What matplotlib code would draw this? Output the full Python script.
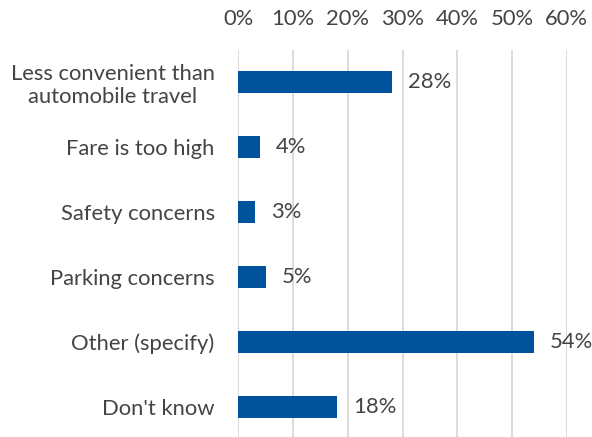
import matplotlib
matplotlib.use("Agg")
import matplotlib.pyplot as plt
from matplotlib.ticker import FuncFormatter

categories = ["Less convenient than\nautomobile travel", "Fare is too high", "Safety concerns",
              "Parking concerns", "Other (specify)", "Don't know"]
values = [28, 4, 3, 5, 54, 18]
xticks = [0, 10, 20, 30, 40, 50, 60]

plt.rcParams['font.family'] = ['Lato', 'DejaVu Sans']
text_color = "#444444"
bar_color = "#00539B"
fs = 15.8

fig = plt.figure(figsize=(5.92, 4.37), dpi=100)
ax = fig.add_axes([0.4025, -0.0057, 0.5548, 0.8924])

y = list(range(len(categories)))
ax.barh(y, values, height=0.34, color=bar_color, zorder=3)
for yi, v in zip(y, values):
    ax.annotate(f"{v}%", (v, yi), xytext=(11.5, 0), textcoords="offset points",
                va="center", ha="left", fontsize=fs, color=text_color)

ax.set_ylim(len(categories) - 0.5, -0.5)
ax.set_xlim(0, 60)
ax.set_xticks(xticks)
ax.xaxis.set_major_formatter(FuncFormatter(lambda v, p: f"{int(v)}%"))
ax.xaxis.tick_top()
ax.tick_params(axis='x', length=0, pad=15, labelsize=fs, labelcolor=text_color)
ax.set_yticks(y)
ax.set_yticklabels(categories, fontsize=fs, color=text_color, linespacing=1.2)
ax.tick_params(axis='y', length=0, pad=17)
for lbl in ax.get_yticklabels():
    lbl.set_multialignment('center')

ax.grid(axis='x', color="#D9D9D9", linewidth=1.3, zorder=0)
for s in ax.spines.values():
    s.set_visible(False)

fig.savefig("out.png", dpi=100)
